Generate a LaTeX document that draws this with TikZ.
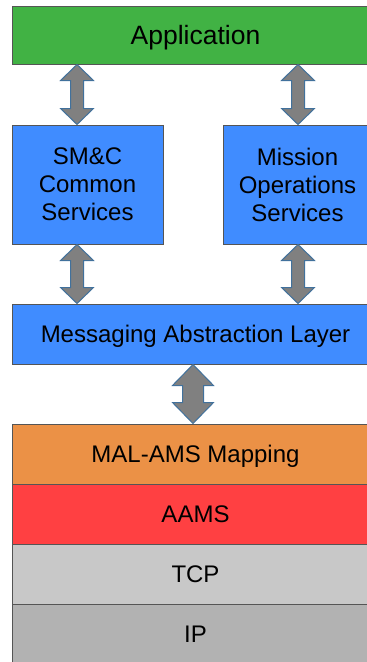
\documentclass[tikz,border=0pt]{standalone}
\usepackage{fontspec}
\setmainfont{Liberation Sans}
\usetikzlibrary{calc}
\definecolor{appgreen}{RGB}{65,178,68}
\definecolor{svcblue}{RGB}{64,140,255}
\definecolor{maporange}{RGB}{235,145,70}
\definecolor{aamsred}{RGB}{255,64,66}
\definecolor{tcpgray}{RGB}{200,200,200}
\definecolor{ipgray}{RGB}{178,178,178}
\definecolor{edgegray}{RGB}{85,85,85}
\definecolor{arrgray}{RGB}{128,128,128}
\definecolor{arrblue}{RGB}{65,113,156}
\tikzset{
  layer/.style={draw=edgegray, line width=1pt, inner sep=0pt, minimum width=367pt,
    font=\fontsize{24}{28}\selectfont, text height=17.2pt, text depth=0pt},
  svc/.style={draw=edgegray, line width=1pt, inner sep=0pt, fill=svcblue,
    font=\fontsize{24}{28}\selectfont, align=center, minimum height=119pt},
  blockarr/.style={fill=arrgray, draw=arrblue, line width=1pt, line join=miter}
}
\newcommand{\vdarrow}[6]{%
  \draw[blockarr] let \p1=(#1), \p2=(#2) in
  (#3pt,\y1) -- (#3pt+#4pt,\y1-#6pt) -- (#3pt+#5pt,\y1-#6pt) -- (#3pt+#5pt,\y2+#6pt)
  -- (#3pt+#4pt,\y2+#6pt) -- (#3pt,\y2) -- (#3pt-#4pt,\y2+#6pt) -- (#3pt-#5pt,\y2+#6pt)
  -- (#3pt-#5pt,\y1-#6pt) -- (#3pt-#4pt,\y1-#6pt) -- cycle;}
\begin{document}
\begin{tikzpicture}[x=1pt,y=-1pt]
\useasboundingbox (0,0) rectangle (367,662);
\clip (0,0) rectangle (367,662);
\node[layer, fill=appgreen, minimum height=58pt, font=\fontsize{26.5}{30}\selectfont, text height=19pt] (app) at (195.5,35) {Application};
\node[svc, minimum width=151pt] (smc) at (87.5,184.5) {SM\&C\\Common\\Services};
\node[svc, minimum width=149pt] (mos) at (297.5,184.5) {Mission\\Operations\\Services};
\node[layer, fill=svcblue, minimum height=60pt] (mal) at (195.5,334) {Messaging Abstraction Layer};
\node[layer, fill=maporange, minimum height=60pt] (map) at (195.5,454) {MAL-AMS Mapping};
\node[layer, fill=aamsred, minimum height=60pt] (aams) at (195.5,514) {AAMS};
\node[layer, fill=tcpgray, minimum height=60pt] (tcp) at (195.5,574) {TCP};
\node[layer, fill=ipgray, minimum height=60pt] (ip) at (195.5,634) {IP};
\vdarrow{app.south}{smc.north}{77}{16.5}{6.5}{16}
\vdarrow{app.south}{mos.north}{298}{16.5}{6.5}{16}
\vdarrow{smc.south}{mal.north}{77}{16.5}{6.5}{16}
\vdarrow{mos.south}{mal.north}{298}{16.5}{6.5}{16}
\vdarrow{mal.south}{map.north}{193}{20.5}{10.5}{21}
\end{tikzpicture}
\end{document}
